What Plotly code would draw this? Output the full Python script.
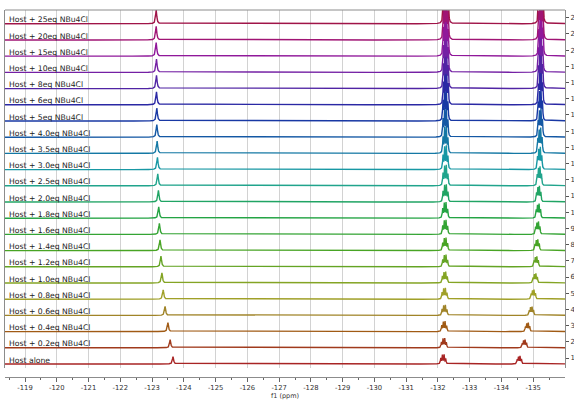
import numpy as np
import plotly.graph_objects as go

# ---- data (bottom row first) ----
labels = ["Host alone", "Host + 0.2eq NBu4Cl", "Host + 0.4eq NBu4Cl", "Host + 0.6eq NBu4Cl",
          "Host + 0.8eq NBu4Cl", "Host + 1.0eq NBu4Cl", "Host + 1.2eq NBu4Cl", "Host + 1.4eq NBu4Cl",
          "Host + 1.6eq NBu4Cl", "Host + 1.8eq NBu4Cl", "Host + 2.0eq NBu4Cl", "Host + 2.5eq NBu4Cl",
          "Host + 3.0eq NBu4Cl", "Host + 3.5eq NBu4Cl", "Host + 4.0eq NBu4Cl", "Host + 5eq NBu4Cl",
          "Host + 6eq NBu4Cl", "Host + 8eq NBu4Cl", "Host + 10eq NBu4Cl", "Host + 15eq NBu4Cl",
          "Host + 20eq NBu4Cl", "Host + 25eq NBu4Cl"]

peakA_ppm = [-123.66, -123.57, -123.50, -123.41, -123.35, -123.31, -123.28, -123.25, -123.23, -123.21,
             -123.20, -123.18, -123.17, -123.16, -123.15, -123.15, -123.14, -123.14, -123.14, -123.13,
             -123.13, -123.13]
peakA_height = [0.45, 0.5, 0.55, 0.55, 0.58, 0.62, 0.66, 0.66, 0.68, 0.7, 0.72, 0.74, 0.76, 0.76, 0.78,
                0.8, 0.8, 0.82, 0.82, 0.84, 0.84, 0.84]

peakB_ppm = [-132.16, -132.18, -132.19, -132.20, -132.20, -132.21, -132.22, -132.22, -132.22, -132.22,
             -132.23, -132.23, -132.23, -132.23, -132.23, -132.23, -132.24, -132.24, -132.24, -132.24,
             -132.24, -132.24]
peakB_height = [0.6, 0.6, 0.65, 0.65, 0.7, 0.7, 0.75, 0.8, 0.9, 1.0, 1.1, 1.3, 1.5, 1.7, 1.9,
                2.1, 2.3, 2.5, 2.7, 2.9, 3.1, 3.3]

peakC_ppm = [-134.56, -134.72, -134.82, -134.94, -135.00, -135.06, -135.09, -135.12, -135.14, -135.16,
             -135.17, -135.19, -135.20, -135.21, -135.22, -135.22, -135.23, -135.23, -135.23, -135.24,
             -135.24, -135.24]
peakC_height = [0.5, 0.5, 0.55, 0.55, 0.6, 0.6, 0.65, 0.7, 0.8, 0.9, 1.0, 1.2, 1.4, 1.6, 1.8,
                2.0, 2.2, 2.4, 2.6, 2.8, 3.0, 3.2]

multB_offsets = [-0.085, -0.035, 0.02, 0.07]
multB_weights = [0.55, 1.0, 0.95, 0.6]
multC_offsets = [-0.07, -0.025, 0.025, 0.065]
multC_weights = [0.6, 1.0, 0.9, 0.55]

colors = ["#a82424", "#a03a1c", "#a05a14", "#a08428", "#a0a028", "#84a424", "#64a424", "#48a424",
          "#34a434", "#24a444", "#20a464", "#20a48c", "#1898a4", "#1478a4", "#1458a4", "#1838a4",
          "#2a28a4", "#5024a4", "#7420a4", "#90189a", "#a01474", "#a01448"]

x_tickvals = list(range(-119, -136, -1))
x_ticktext = [str(v) for v in x_tickvals]
x_minorvals = [v - 0.5 for v in range(-118, -136, -1)]
y_tickvals = list(range(1, 23))
y_ticktext = [str(v) for v in y_tickvals]

# ---- build spectra ----
XR = [-118.37, -136.0]
grid = np.concatenate([
    np.arange(-136.2, -118.2, 0.02),
    np.arange(-123.95, -122.85, 0.002),
    np.arange(-132.55, -131.85, 0.002),
    np.arange(-135.6, -134.25, 0.002),
])
grid = np.unique(np.round(grid, 4))


def lor(x, c, g):
    return 1.0 / (1.0 + ((x - c) / g) ** 2)


def multiplet(x, c, offs, wts, g):
    s = sum(w * lor(x, c + o, g) for o, w in zip(offs, wts))
    return s / s.max()


fig = go.Figure()
n = len(labels)
for i in range(n):
    base = (i + 1) - 0.37
    y = (peakA_height[i] * lor(grid, peakA_ppm[i], 0.022)
         + peakB_height[i] * multiplet(grid, peakB_ppm[i], multB_offsets, multB_weights, 0.013)
         + peakC_height[i] * multiplet(grid, peakC_ppm[i], multC_offsets, multC_weights, 0.013))
    fig.add_trace(go.Scatter(x=grid, y=np.round(base + y, 4), mode="lines",
                             line=dict(color=colors[i], width=1.4), showlegend=False,
                             hoverinfo="skip"))

fig.add_trace(go.Scatter(x=[None], y=[None], xaxis="x2", yaxis="y", showlegend=False,
                         hoverinfo="skip"))

annotations = []
for i in range(n):
    base = (i + 1) - 0.37
    annotations.append(dict(text=labels[i], xref="paper", x=0.0036, xanchor="left",
                            yref="y", y=base + 0.24, yanchor="middle", showarrow=False,
                            font=dict(family="DejaVu Sans", size=7.7, color="#222222")))

fig.update_layout(
    width=574, height=400,
    margin=dict(l=5, r=9, t=10, b=23, autoexpand=False),
    paper_bgcolor="white", plot_bgcolor="white", showlegend=False,
    annotations=annotations,
    xaxis=dict(range=XR, showgrid=True, gridcolor="#d2d2d2", gridwidth=1,
               tickmode="array", tickvals=x_tickvals, showticklabels=False, ticks="",
               zeroline=False, showline=False),
    yaxis=dict(domain=[0.0245, 1], range=[0.383, 22.48], side="right", showline=True,
               mirror=True, linecolor="#8c8c8c", linewidth=1, ticks="outside", ticklen=3,
               tickcolor="#555555", tickmode="array", tickvals=y_tickvals, ticktext=y_ticktext,
               tickfont=dict(family="DejaVu Sans", size=7, color="#333333"),
               showgrid=False, zeroline=False),
    xaxis2=dict(overlaying="x", anchor="free", position=0, range=XR, showline=True,
                linecolor="#8c8c8c", linewidth=1, ticks="outside", ticklen=4,
                tickcolor="#666666", tickmode="array", tickvals=x_tickvals, ticktext=x_ticktext,
                tickfont=dict(family="DejaVu Sans", size=6.8, color="#333333"),
                minor=dict(tickmode="array", tickvals=x_minorvals, ticks="outside", ticklen=2,
                           tickcolor="#666666"),
                showgrid=False, zeroline=False,
                title=dict(text="f1 (ppm)", font=dict(family="DejaVu Sans", size=6.5,
                                                      color="#333333"), standoff=1)),
    shapes=[dict(type="line", xref="paper", yref="paper", x0=0, x1=1, y0=1, y1=1,
                 line=dict(color="#8c8c8c", width=1))],
)

fig.write_html("out.html", config={"displayModeBar": False},
               post_script="document.body.style.margin='0px';document.body.style.overflow='hidden';")
